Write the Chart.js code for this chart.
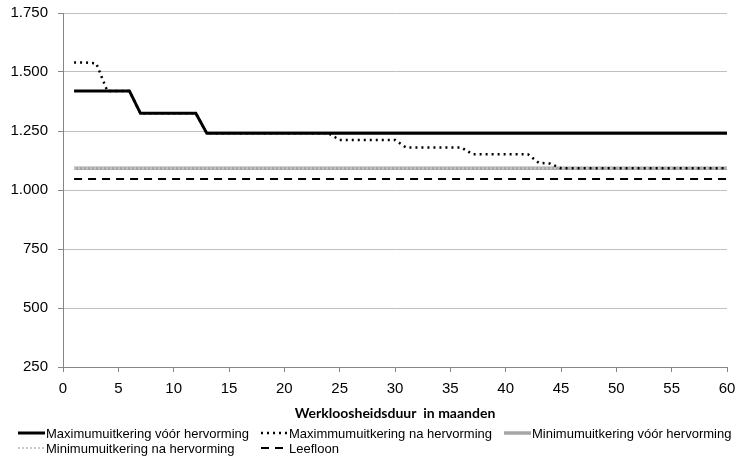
<!DOCTYPE html>
<html>
<head>
<meta charset="utf-8">
<script src="https://cdn.jsdelivr.net/npm/chart.js@4.4.1/dist/chart.umd.min.js"></script>
<style>
  html, body { margin: 0; padding: 0; background: #fff; }
  #wrap { width: 737px; height: 467px; }
</style>
</head>
<body>
<div id="wrap"><canvas id="uitkeringChart"></canvas></div>
<script>
const months = [1, 2, 3, 4, 5, 6, 7, 8, 9, 10, 11, 12, 13, 14, 15, 16, 17, 18, 19, 20,
    21, 22, 23, 24, 25, 26, 27, 28, 29, 30, 31, 32, 33, 34, 35, 36, 37, 38, 39, 40,
    41, 42, 43, 44, 45, 46, 47, 48, 49, 50, 51, 52, 53, 54, 55, 56, 57, 58, 59, 60];

const maxVoor = [1420, 1420, 1420, 1420, 1420, 1420, 1325, 1325, 1325, 1325, 1325, 1325,
    1240, 1240, 1240, 1240, 1240, 1240, 1240, 1240, 1240, 1240, 1240, 1240,
    1240, 1240, 1240, 1240, 1240, 1240, 1240, 1240, 1240, 1240, 1240, 1240,
    1240, 1240, 1240, 1240, 1240, 1240, 1240, 1240, 1240, 1240, 1240, 1240,
    1240, 1240, 1240, 1240, 1240, 1240, 1240, 1240, 1240, 1240, 1240, 1240];

const maxNa = [1540, 1540, 1537, 1420, 1420, 1420, 1325, 1325, 1325, 1325, 1325, 1325,
    1240, 1240, 1240, 1240, 1240, 1240, 1240, 1240, 1240, 1240, 1240, 1240,
    1212, 1212, 1212, 1212, 1212, 1212, 1180, 1180, 1180, 1180, 1180, 1180,
    1152, 1152, 1152, 1152, 1152, 1152, 1115, 1112, 1092, 1092, 1092, 1092,
    1092, 1092, 1092, 1092, 1092, 1092, 1092, 1092, 1092, 1092, 1092, 1092];

const minVoor = [1092, 1092, 1092, 1092, 1092, 1092, 1092, 1092, 1092, 1092, 1092, 1092,
    1092, 1092, 1092, 1092, 1092, 1092, 1092, 1092, 1092, 1092, 1092, 1092,
    1092, 1092, 1092, 1092, 1092, 1092, 1092, 1092, 1092, 1092, 1092, 1092,
    1092, 1092, 1092, 1092, 1092, 1092, 1092, 1092, 1092, 1092, 1092, 1092,
    1092, 1092, 1092, 1092, 1092, 1092, 1092, 1092, 1092, 1092, 1092, 1092];

const minNa = [1092, 1092, 1092, 1092, 1092, 1092, 1092, 1092, 1092, 1092, 1092, 1092,
    1092, 1092, 1092, 1092, 1092, 1092, 1092, 1092, 1092, 1092, 1092, 1092,
    1092, 1092, 1092, 1092, 1092, 1092, 1092, 1092, 1092, 1092, 1092, 1092,
    1092, 1092, 1092, 1092, 1092, 1092, 1092, 1092, 1092, 1092, 1092, 1092,
    1092, 1092, 1092, 1092, 1092, 1092, 1092, 1092, 1092, 1092, 1092, 1092];

const leefloon = [1047, 1047, 1047, 1047, 1047, 1047, 1047, 1047, 1047, 1047, 1047, 1047,
    1047, 1047, 1047, 1047, 1047, 1047, 1047, 1047, 1047, 1047, 1047, 1047,
    1047, 1047, 1047, 1047, 1047, 1047, 1047, 1047, 1047, 1047, 1047, 1047,
    1047, 1047, 1047, 1047, 1047, 1047, 1047, 1047, 1047, 1047, 1047, 1047,
    1047, 1047, 1047, 1047, 1047, 1047, 1047, 1047, 1047, 1047, 1047, 1047];

const seriesLabels = [
    'Maximumuitkering vóór hervorming',
    'Maximmumuitkering na hervorming',
    'Minimumuitkering vóór hervorming',
    'Minimumuitkering na hervorming',
    'Leefloon'
];

const xTitle = 'Werkloosheidsduur  in maanden';

function toPoints(values) {
    return months.map((m, i) => ({ x: m, y: values[i] }));
}

function formatThousands(v) {
    return String(v).replace(/\B(?=(\d{3})+(?!\d))/g, '.');
}

// legend in a 3-column grid like the original (Excel style)
const gridLegend = {
    id: 'gridLegend',
    afterDraw(chart) {
        const ctx = chart.ctx;
        const colX = [18, 261, 504];
        const rowY = [433, 448];
        const lineLen = 27;
        ctx.save();
        ctx.font = '13px "Liberation Sans", Arial, sans-serif';
        ctx.textBaseline = 'middle';
        ctx.fillStyle = '#000';
        chart.data.datasets.forEach((ds, i) => {
            const x = colX[i % 3];
            const y = rowY[Math.floor(i / 3)];
            ctx.beginPath();
            ctx.strokeStyle = ds.borderColor;
            ctx.lineWidth = ds.borderWidth;
            ctx.setLineDash(ds.borderDash || []);
            ctx.moveTo(x, y);
            ctx.lineTo(x + lineLen, y);
            ctx.stroke();
            ctx.setLineDash([]);
            ctx.fillText(ds.label, x + lineLen + 1, y + 1);
        });
        ctx.restore();
    }
};

const ctx = document.getElementById('uitkeringChart').getContext('2d');
const chart = new Chart(ctx, {
    type: 'line',
    data: {
        datasets: [
            { label: seriesLabels[0], data: toPoints(maxVoor), borderColor: '#000000', borderWidth: 3, order: 0 },
            { label: seriesLabels[1], data: toPoints(maxNa), borderColor: '#000000', borderWidth: 2.5, borderDash: [2, 4], order: 1 },
            { label: seriesLabels[2], data: toPoints(minVoor), borderColor: '#a6a6a6', borderWidth: 3.5, order: 3 },
            { label: seriesLabels[3], data: toPoints(minNa), borderColor: '#c9c9c9', borderWidth: 2, borderDash: [2, 2], order: 2 },
            { label: seriesLabels[4], data: toPoints(leefloon), borderColor: '#000000', borderWidth: 2, borderDash: [8, 6], order: 4 }
        ]
    },
    options: {
        responsive: true,
        maintainAspectRatio: false,
        animation: false,
        elements: {
            point: { radius: 0, hoverRadius: 0 },
            line: { tension: 0, fill: false }
        },
        layout: {
            padding: { top: 13, right: 10, bottom: 47, left: 0 }
        },
        plugins: {
            legend: { display: false },
            tooltip: { enabled: false }
        },
        scales: {
            x: {
                type: 'linear',
                min: 0,
                max: 60,
                border: { color: '#868686', width: 1 },
                grid: { drawOnChartArea: false, drawTicks: true, tickLength: 5, color: '#868686' },
                ticks: {
                    stepSize: 5,
                    padding: 8,
                    maxRotation: 0,
                    color: '#000',
                    font: { family: '"Liberation Sans", Arial, sans-serif', size: 15 }
                },
                title: {
                    display: true,
                    text: xTitle,
                    color: '#000',
                    padding: { top: 0, bottom: 0 },
                    font: { family: 'Lato, "Open Sans", sans-serif', size: 14, weight: 'bold', lineHeight: 1 }
                },
                afterFit: scale => { scale.paddingLeft = 0; scale.paddingRight = 0; }
            },
            y: {
                min: 250,
                max: 1750,
                border: { color: '#868686', width: 1 },
                grid: { color: '#bfbfbf', tickColor: '#868686', tickLength: 5 },
                ticks: {
                    stepSize: 250,
                    padding: 10,
                    color: '#000',
                    font: { family: '"Liberation Sans", Arial, sans-serif', size: 15 },
                    callback: v => formatThousands(v)
                },
                afterFit: scale => { scale.width = 63; scale.paddingTop = 0; scale.paddingBottom = 0; }
            }
        }
    },
    plugins: [gridLegend]
});
</script>
</body>
</html>
